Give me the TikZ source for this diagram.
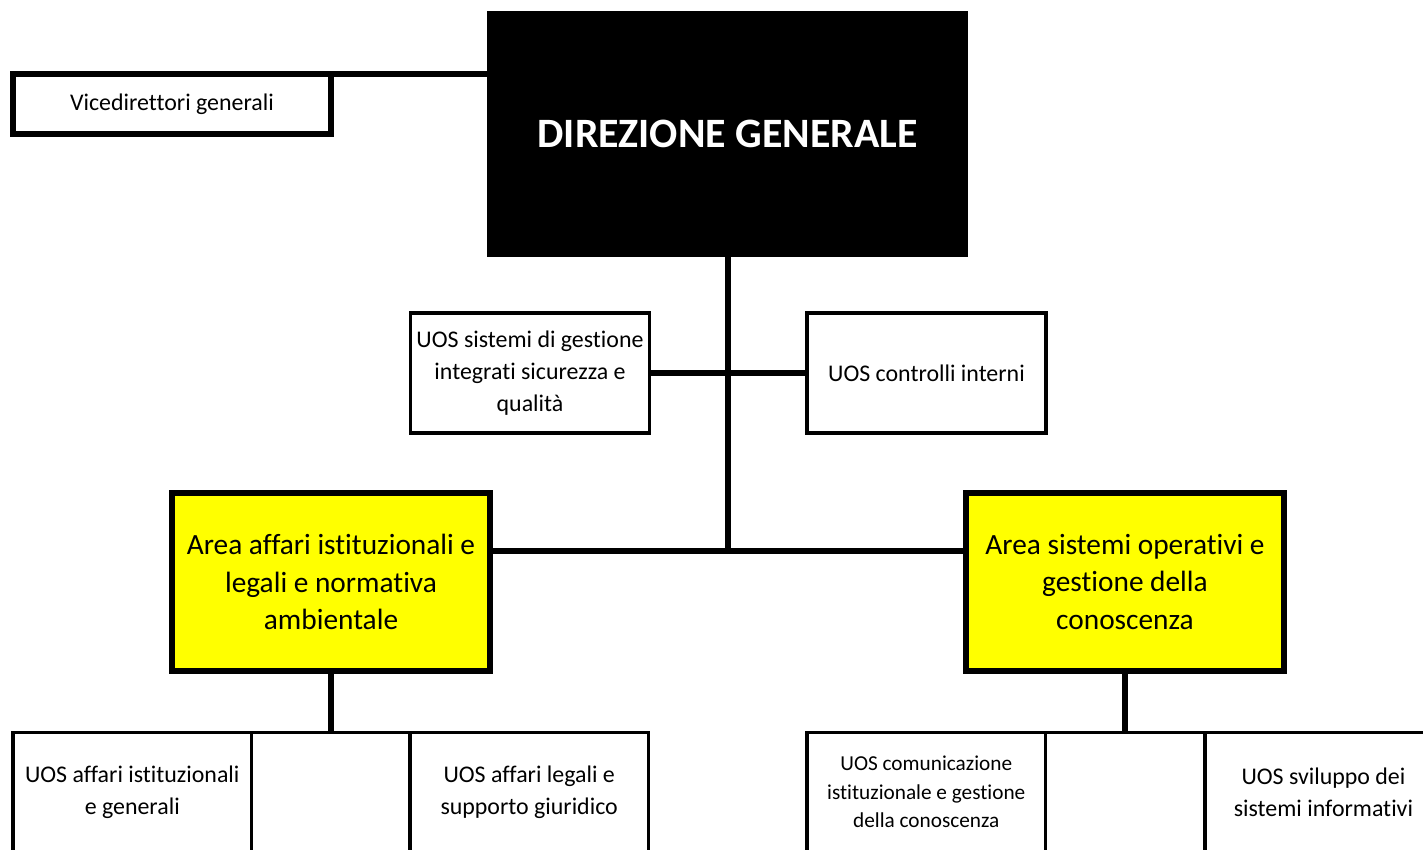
\documentclass[tikz,border=0pt]{standalone}
\usepackage{fontspec}
\setmainfont{Carlito}[Ligatures=NoCommon]
\usetikzlibrary{positioning}

\definecolor{areayellow}{RGB}{255,255,0}

\tikzset{
  conn/.style={line width=3.4pt},
  uos/.style={draw, line width=1.9pt, fill=white, align=center, outer sep=0pt,
    inner sep=2pt, font=\fontsize{13.6}{18.1}\selectfont},
  uossmall/.style={uos, font=\fontsize{12.1}{16.2}\selectfont},
  vice/.style={draw, line width=3.4pt, fill=white, outer sep=0pt, minimum width=6.35cm,
    minimum height=1.2cm, font=\fontsize{13.6}{18.1}\selectfont},
  area/.style={draw, line width=3.4pt, fill=areayellow, align=center, outer sep=0pt,
    minimum width=6.36cm, minimum height=3.56cm,
    font=\fontsize{16.7}{21.5}\selectfont},
  dg/.style={fill=black, text=white, outer sep=0pt, minimum width=9.62cm, minimum height=4.91cm,
    font=\bfseries\fontsize{23.8}{28}\selectfont},
}

\begin{document}
\begin{tikzpicture}[x=0.02cm, y=-0.02cm]

     \path[use as bounding box] (0,0) rectangle (1423,849);
     \clip (0,0) rectangle (1423,849);

     \coordinate (hub) at (728,551);

     % nodes
     \node[dg] (dg) at (727.5,133.8) {DIREZIONE GENERALE};%
     \node[vice] (vice) at (171.9,104) {Vicedirettori generali};%

     \node[uos, minimum width=4.78cm, minimum height=2.4cm] (sgi) at (530,373)
       {UOS sistemi di gestione\\integrati sicurezza e\\qualità};%
     \node[uos, minimum width=4.78cm, minimum height=2.4cm] (ci) at (926.5,373)
       {UOS controlli interni};%

     \node[area] (areaaff) at (331,582)
       {Area affari istituzionali e\\legali e normativa\\ambientale};%
     \node[area] (areaso) at (1125,582)
       {Area sistemi operativi e\\gestione della\\conoscenza};%

     \node[uos, minimum width=4.77cm, minimum height=2.39cm] (aig) at (132.25,792)
       {UOS affari istituzionali\\e generali};%
     \node[uos, minimum width=3.17cm, minimum height=2.39cm, right=0pt of aig] (aigvuoto) {};%
     \node[uos, minimum width=4.77cm, minimum height=2.39cm, right=0pt of aigvuoto] (alg)
       {UOS affari legali e\\supporto giuridico};%

     \node[uossmall, minimum width=4.77cm, minimum height=2.39cm] (cig) at (926.25,792)
       {UOS comunicazione\\istituzionale e gestione\\della conoscenza};%
     \node[uos, minimum width=3.19cm, minimum height=2.39cm, right=0pt of cig] (cigvuoto) {};%
     \node[uos, minimum width=4.74cm, minimum height=2.39cm, right=0pt of cigvuoto] (ssi)
       {UOS sviluppo dei\\sistemi informativi};%

     % edges
     \draw[conn] (vice.north east) -- (vice.north east -| dg.west);
     \draw[conn] (dg.south -| hub) -- (hub);
     \draw[conn] (sgi.east) -- (ci.west);
     \draw[conn] (areaaff.east |- hub) -- (areaso.west |- hub);
     \draw[conn] (areaaff.south) -- (areaaff.south |- aigvuoto.north);
     \draw[conn] (areaso.south) -- (areaso.south |- cigvuoto.north);

 \end{tikzpicture}
\end{document}
